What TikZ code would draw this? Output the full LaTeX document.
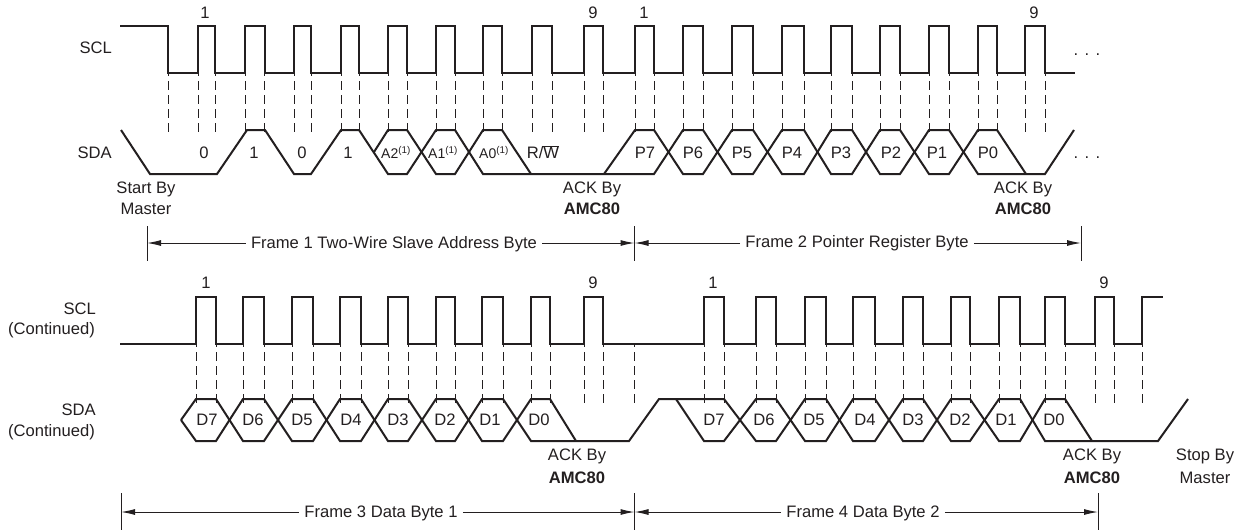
\documentclass[tikz,border=0pt]{standalone}
\usepackage{fontspec}
\setmainfont{Liberation Sans}
\usetikzlibrary{arrows.meta}
\definecolor{ink}{HTML}{231F20}
\tikzset{
  wave/.style={draw=ink,line width=2pt,line join=miter,line cap=butt},
  guide/.style={draw=ink,line width=0.8pt,dash pattern=on 9pt off 5pt,dash phase=6pt},
  tick/.style={draw=ink,line width=1pt},
  span/.style={draw=ink,line width=1pt,-{Latex[length=14pt,width=6pt]}},
  lab/.style={inner sep=0pt,text=ink,font=\fontsize{16.6}{19}\selectfont,text height=11.9pt,text depth=0pt},
  smalllab/.style={lab,font=\fontsize{14}{16}\selectfont},
  flab/.style={lab,inner xsep=5pt},
  dots/.style={lab}
}
\begin{document}
\begin{tikzpicture}[x=1pt,y=-1pt]
\useasboundingbox (0,0) rectangle (1244,531);
% guides
\foreach \x in {168,198,215,245,264.5,294,311,341,359,388,407,436,455,483,502,532,552,584,603,635,654,683,703,732,753,782,804,831,852,880,900,929,949,978,997,1025,1045}
  \draw[guide] (\x,73) -- (\x,133);
\foreach \x in {196,216,243,264,292,313,340,361,388,408,436,455,482,503,531,550,584,603,634,704,724,756,776,805,826,853,875,903,923,951,970,999,1020,1045,1065,1095,1114,1142}
  \draw[guide] (\x,344) -- (\x,403);
% SCL top
\draw[wave] (120,26) -- (168,26) -- (168,72.5)
  \foreach \a/\b in {198/215,245/264.5,294/311,341/359,388/407,436/455,483/502,532/552,584/603,635/654,683/703,732/753,782/804,831/852,880/900,929/949,978/997,1025/1045}
   {-- (\a,72.5) -- (\a,26) -- (\b,26) -- (\b,72.5)} -- (1075,72.5);
% SDA top
\draw[wave] (121,130)--(150,174)--(217,174)--(247,130)--(265,130)--(294,174)--(311,174)--(341,130)--(359,130)--(388,174)--(407,174)--(436,130)--(455,130)--(483,174)--(654,174)--(683,130)--(703,130)--(732,174)--(753,174)--(782,130)--(804,130)--(831,174)--(852,174)--(880,130)--(900,130)--(929,174)--(949,174)--(978,130)--(997,130)--(1026,174);
\draw[wave] (374,152)--(388,130)--(407,130)--(436,174)--(455,174)--(483,130)--(502,130)--(531,174);
\draw[wave] (604,174)--(635,130)--(654,130)--(683,174)--(703,174)--(732,130)--(753,130)--(782,174)--(804,174)--(831,130)--(852,130)--(880,174)--(900,174)--(929,130)--(949,130)--(978,174)--(1045,174)--(1074,130);
% SCL bottom
\draw[wave] (120,343.5)
  \foreach \a/\b in {196/216,243/264,292/313,340/361,388/408,436/455,482/503,531/550,584/603,704/724,756/776,805/826,853/875,903/923,951/970,999/1020,1045/1065,1095/1114}
   {-- (\a,343.5) -- (\a,297) -- (\b,297) -- (\b,343.5)} -- (1142,343.5) -- (1142,297) -- (1163,297);
% SDA bottom
\draw[wave] (181,420)--(196,399)--(216,399)--(243,441)--(264,441)--(292,399)--(313,399)--(340,441)--(361,441)--(388,399)--(408,399)--(436,441)--(455,441)--(482,399)--(503,399)--(531,441)--(629,441)--(659,399)--(724,399)--(756,441)--(776,441)--(805,399)--(826,399)--(853,441)--(875,441)--(903,399)--(923,399)--(951,441)--(970,441)--(999,399)--(1020,399)--(1045,441)--(1158,441)--(1188,399);
\draw[wave] (181,420)--(196,441)--(216,441)--(243,399)--(264,399)--(292,441)--(313,441)--(340,399)--(361,399)--(388,441)--(408,441)--(436,399)--(455,399)--(482,441)--(503,441)--(531,399)--(550,399)--(576,441);
\draw[wave] (676,399)--(704,441)--(724,441)--(756,399)--(776,399)--(805,441)--(826,441)--(853,399)--(875,399)--(903,441)--(923,441)--(951,399)--(970,399)--(999,441)--(1020,441)--(1045,399)--(1065,399)--(1092,441);
% signal names
\node[lab,anchor=east] (scla) at (112,48) {SCL};
\node[lab,anchor=east] (sdaa) at (112,153) {SDA};
\node[lab,anchor=east] (sclb) at (96,309) {SCL};
\node[lab,anchor=east] (sclc) at (95,329) {(Continued)};
\node[lab,anchor=east] (sdab) at (96,410) {SDA};
\node[lab,anchor=east] (sdac) at (95,431) {(Continued)};
% counters
\node[lab] (ca) at (205,13) {1};
\node[lab] (cb) at (593,13) {9};
\node[lab] (cc) at (644,13) {1};
\node[lab] (cd) at (1034,13) {9};
\node[lab] (ce) at (206,283) {1};
\node[lab] (cf) at (593,283) {9};
\node[lab] (cg) at (713,283) {1};
\node[lab] (ch) at (1104,283) {9};
% top bits
\foreach \n/\x/\t in {ba/204/0,bb/254/1,bc/302/0,bd/348/1,pa/645/P7,pb/693/P6,pc/742/P5,pd/792/P4,pe/841/P3,pf/891/P2,pg/937/P1,ph/988/P0}
  \node[lab] (\n) at (\x,153) {\t};
\foreach \n/\x/\t in {aa/396/A2,ab/443/A1,ac/494/A0}
  \node[smalllab] (\n) at (\x,153) {\t\textsuperscript{(1)}};
\node[lab] (rw) at (543,153) {R/$\overline{\mbox{W}}$};
% bottom bits
\foreach \n/\x/\t in {da/207/D7,db/253/D6,dc/302/D5,dd/351/D4,de/398/D3,df/445/D2,dg/490/D1,dh/539/D0,ea/714/D7,eb/764/D6,ec/814/D5,ed/865/D4,ee/913/D3,ef/960/D2,eg/1006/D1,eh/1054/D0}
  \node[lab] (\n) at (\x,420) {\t};
% annotations
\node[lab] (sa) at (146,188) {Start By};
\node[lab] (sb) at (146,209) {Master};
\node[lab] (ka) at (592,188) {ACK By};
\node[lab] (kb) at (592,209) {\textbf{AMC80}};
\node[lab] (kc) at (1023,188) {ACK By};
\node[lab] (kd) at (1023,209) {\textbf{AMC80}};
\node[lab] (ke) at (577,455) {ACK By};
\node[lab] (kf) at (577,478) {\textbf{AMC80}};
\node[lab] (kg) at (1092,455) {ACK By};
\node[lab] (kh) at (1092,478) {\textbf{AMC80}};
\node[lab] (ta) at (1205,455) {Stop By};
\node[lab] (tb) at (1205,478) {Master};
% dots
\node[dots] (dota) at (1087,49.6) {.\hspace{6.4pt}.\hspace{6.4pt}.};
\node[dots] (dotb) at (1087,152.6) {.\hspace{6.4pt}.\hspace{6.4pt}.};
% frame ticks
\coordinate (ua) at (147,226); \coordinate (ub) at (147,261); \coordinate (um) at (147,243);
\coordinate (va) at (634.5,226); \coordinate (vb) at (634.5,261); \coordinate (vm) at (634.5,243);
\coordinate (wa) at (1081,226); \coordinate (wb) at (1081,261); \coordinate (wm) at (1081,243);
\coordinate (xa) at (121,493); \coordinate (xb) at (121,530); \coordinate (xm) at (121,512);
\coordinate (ya) at (634.5,493); \coordinate (yb) at (634.5,530); \coordinate (ym) at (634.5,512);
\coordinate (za) at (1098,493); \coordinate (zb) at (1098,530); \coordinate (zm) at (1098,512);
\draw[tick] (ua)--(ub);
\draw[tick] (va)--(vb);
\draw[tick] (wa)--(wb);
\draw[tick] (xa)--(xb);
\draw[tick] (ya)--(yb);
\draw[tick] (za)--(zb);
% frame labels
\node[flab] (fa) at (394,243) {Frame 1 Two-Wire Slave Address Byte};
\node[flab] (fb) at (857,241.5) {Frame 2 Pointer Register Byte};
\node[flab] (fc) at (381,512) {Frame 3 Data Byte 1};
\node[flab] (fd) at (863,512) {Frame 4 Data Byte 2};
\draw[span] (fa.west |- um) -- (um);
\draw[span] (fa.east |- um) -- (vm);
\draw[span] (fb.west |- vm) -- (vm);
\draw[span] (fb.east |- vm) -- (wm);
\draw[span] (fc.west |- xm) -- (xm);
\draw[span] (fc.east |- xm) -- (ym);
\draw[span] (fd.west |- ym) -- (ym);
\draw[span] (fd.east |- ym) -- (zm);
\end{tikzpicture}
\end{document}
